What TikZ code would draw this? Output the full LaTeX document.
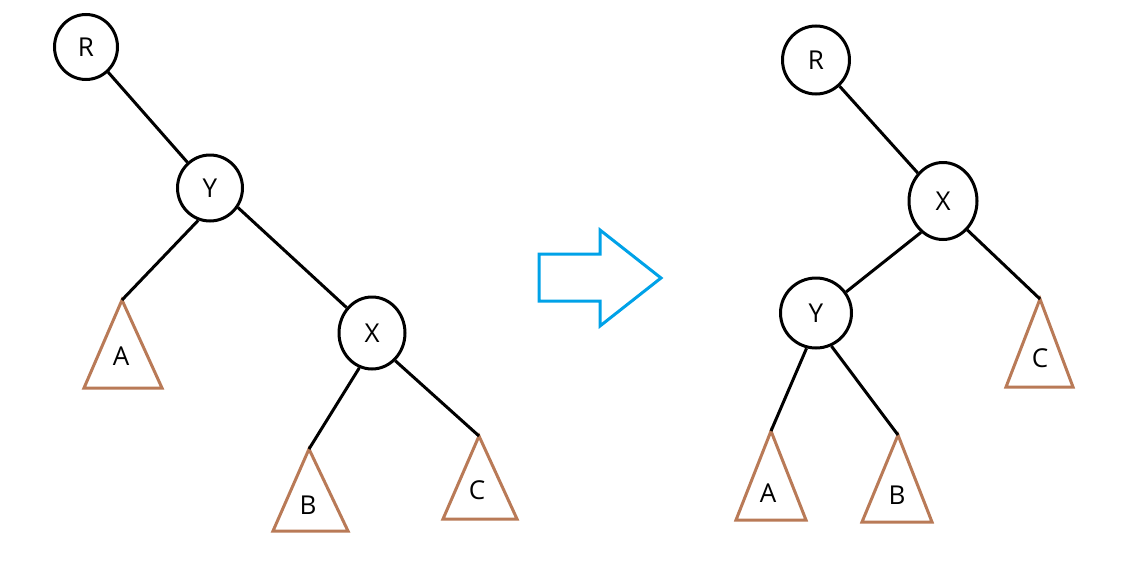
\documentclass[tikz,border=0pt]{standalone}
\usepackage{fontspec}
\setmainfont{Open Sans}
\usetikzlibrary{shapes.geometric}
\definecolor{treebrown}{HTML}{B97A57}
\definecolor{arrowblue}{HTML}{00A2E8}
\tikzset{
  keynode/.style={ellipse, draw=black, line width=3pt, inner sep=0pt, font=\fontsize{26}{30}\selectfont},
  edge/.style={draw=black, line width=3pt},
  subtree/.style={draw=treebrown, line width=3pt, line join=miter},
  sublabel/.style={font=\fontsize{26}{30}\selectfont, inner sep=0pt},
  bigarrow/.style={draw=arrowblue, line width=3pt, line join=miter}
}
\begin{document}
\begin{tikzpicture}[x=1pt,y=-1pt]
\useasboundingbox[fill=white] (0,0) rectangle (1125,573);
% ---------- left tree ----------
\node[keynode, minimum width=63pt, minimum height=65pt] (R1) at (86,47) {R};
\node[keynode, minimum width=65pt, minimum height=66pt] (Y1) at (210,188) {Y};
\node[keynode, minimum width=66pt, minimum height=72pt] (X1) at (372,333) {X};
\coordinate (A1) at (122,300);
\coordinate (B1) at (309,449);
\coordinate (C1) at (479,436);
\draw[subtree] (A1) -- (84,388) -- (162,388) -- cycle;
\draw[subtree] (B1) -- (273,531) -- (348,531) -- cycle;
\draw[subtree] (C1) -- (443,519) -- (517,519) -- cycle;
\node[sublabel] (a1) at (121,356) {A};
\node[sublabel] (b1) at (308,505) {B};
\node[sublabel] (c1) at (477,490) {C};
\draw[edge] (R1) -- (Y1);
\draw[edge] (Y1.250) -- (A1);
\draw[edge] (Y1.325) -- (X1.135);
\draw[edge] (X1.250) -- (B1);
\draw[edge] (X1.310) -- (C1);
% ---------- arrow ----------
\draw[bigarrow] (539,254) -- (600,254) -- (600,230) -- (661,278) -- (600,326) -- (600,301) -- (539,301) -- cycle;
% ---------- right tree ----------
\node[keynode, minimum width=67pt, minimum height=68pt] (R2) at (816,60) {R};
\node[keynode, minimum width=68pt, minimum height=77pt] (X2) at (943,201) {X};
\node[keynode, minimum width=71pt, minimum height=70pt] (Y2) at (816,313) {Y};
\coordinate (A2) at (771,431);
\coordinate (B2) at (898,435);
\coordinate (C2) at (1040,299);
\draw[subtree] (A2) -- (736,520) -- (806,520) -- cycle;
\draw[subtree] (B2) -- (862,522) -- (932,522) -- cycle;
\draw[subtree] (C2) -- (1006,387) -- (1073,387) -- cycle;
\node[sublabel] (a2) at (768,493) {A};
\node[sublabel] (b2) at (897,495) {B};
\node[sublabel] (c2) at (1040,358) {C};
\draw[edge] (R2) -- (X2);
\draw[edge] (X2.235) -- (Y2.35);
\draw[edge] (X2.310) -- (C2);
\draw[edge] (Y2.255) -- (A2);
\draw[edge] (Y2.295) -- (B2);
\end{tikzpicture}
\end{document}
